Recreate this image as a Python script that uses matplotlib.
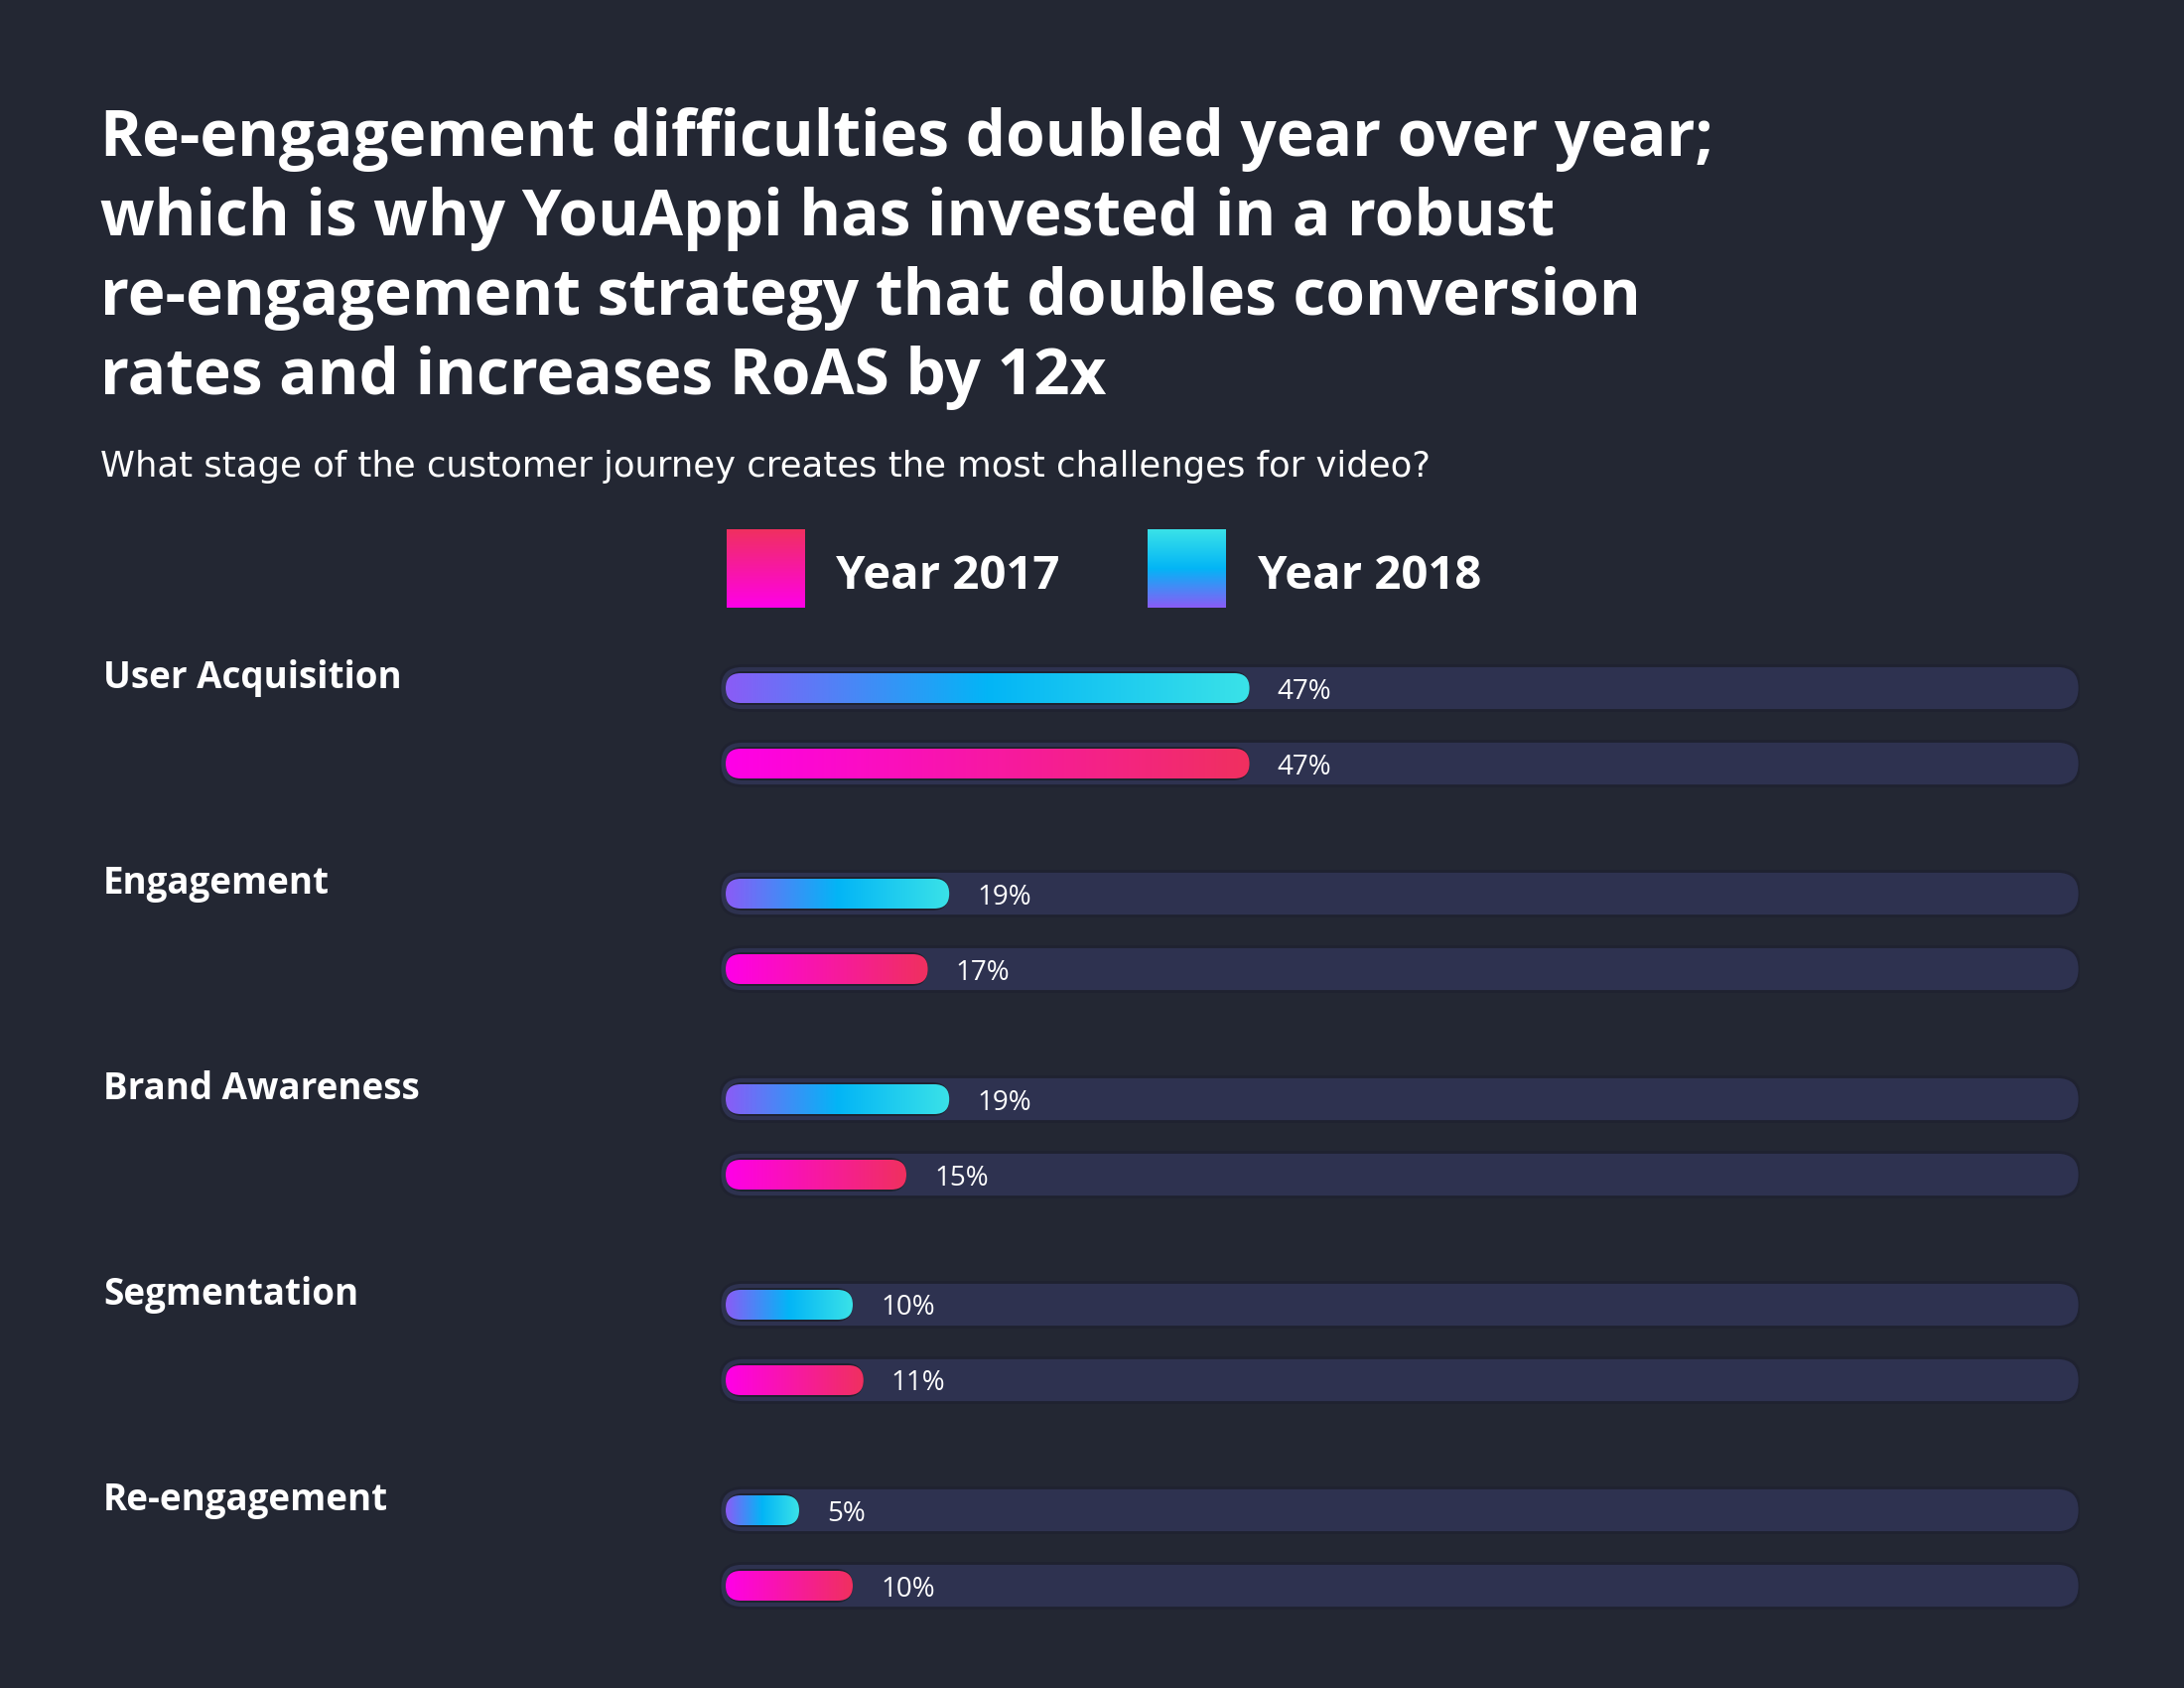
import numpy as np
import matplotlib.pyplot as plt
from matplotlib.patches import FancyBboxPatch
from matplotlib.colors import LinearSegmentedColormap
from matplotlib.transforms import blended_transform_factory

categories = ["User Acquisition", "Engagement", "Brand Awareness", "Segmentation", "Re-engagement"]
year_2018 = [47, 19, 19, 10, 5]
year_2017 = [47, 17, 15, 11, 10]
series_names = ["Year 2017", "Year 2018"]

title_lines = [
    "Re-engagement difficulties doubled year over year;",
    "which is why YouAppi has invested in a robust",
    "re-engagement strategy that doubles conversion",
    "rates and increases RoAS by 12x",
]
subtitle = "What stage of the customer journey creates the most challenges for video?"

BG = "#232733"
TRACK = "#2e3250"
EDGE = "#1f2230"
FONT = "Open Sans"
cmap_2018 = LinearSegmentedColormap.from_list("y18", ["#8a5cf6", "#03b5f6", "#3ae2e8"])
cmap_2017 = LinearSegmentedColormap.from_list("y17", ["#ff00e8", "#f0305f"])

W, H = 2200, 1700
fig = plt.figure(figsize=(22, 17), dpi=100, facecolor=BG)


def fx(px):
    return px / W


def fy(py):
    return 1 - py / H


# title + subtitle
for i, line in enumerate(title_lines):
    fig.text(fx(101), fy(157 + 80 * i), line, color="white", fontsize=46,
             fontweight="bold", family=FONT, va="baseline")
fig.text(fx(101), fy(480), subtitle, color="white", fontsize=25.5, family="DejaVu Sans",
         va="baseline")

# legend
grad_v = np.linspace(1, 0, 256)[:, None]
for name, cmap, sq_x, tx_x in [("Year 2017", cmap_2017, 732, 842), ("Year 2018", cmap_2018, 1156, 1267)]:
    lax = fig.add_axes([fx(sq_x), fy(612), 79 / W, 79 / H])
    lax.imshow(grad_v, cmap=cmap, aspect="auto")
    lax.axis("off")
    fig.text(fx(tx_x), fy(593), name, color="white", fontsize=34, fontweight="bold",
             family=FONT, va="baseline")

# bar area
ax_left, ax_right, ax_top, ax_bot = 725, 2095, 600, 1650
ax = fig.add_axes([fx(ax_left), fy(ax_bot), (ax_right - ax_left) / W, (ax_bot - ax_top) / H])
ax.set_facecolor(BG)
ax.axis("off")

px_per_pct = 10.8
zero_px = 741
group_px = 207
first_px = 693
pair_gap = 76 / group_px
xlim = ((ax_left - zero_px) / px_per_pct, (ax_right - zero_px) / px_per_pct)
ylim = ((ax_bot - first_px) / group_px, (ax_top - first_px) / group_px)
aspect = px_per_pct / group_px


def dx(px):
    return px / px_per_pct


def dy(px):
    return px / group_px


def pill(x0, x1, yc, h_px, **kw):
    p = FancyBboxPatch((x0, yc - dy(h_px / 2)), x1 - x0, dy(h_px),
                       boxstyle=f"round,pad=0,rounding_size={dx(h_px / 2)}",
                       mutation_aspect=aspect, **kw)
    ax.add_patch(p)
    return p


grad_h = np.linspace(0, 1, 256)[None, :]
for i, cat in enumerate(categories):
    for yc, val, cmap in [(i, year_2018[i], cmap_2018), (i + pair_gap, year_2017[i], cmap_2017)]:
        pill(xlim[0], xlim[1], yc, 45, facecolor=TRACK, edgecolor=EDGE, lw=2, zorder=1)
        x0, x1 = -dx(10), val + dx(10)
        pill(x0, x1, yc, 34, facecolor=EDGE, edgecolor="none", zorder=2)
        clip = pill(x0, x1, yc, 30, facecolor="none", edgecolor="none", zorder=3)
        im = ax.imshow(grad_h, cmap=cmap, aspect="auto", zorder=3,
                       extent=[x0, x1, yc + dy(15), yc - dy(15)])
        im.set_clip_path(clip)
        ax.text(val + dx(38), yc, f"{val}%", color="white", fontsize=20, family=FONT,
                va="center_baseline", ha="left", zorder=4)

ax.set_xlim(*xlim)
ax.set_ylim(*ylim)

# category labels, baseline at the 2018 bar centre
lab_tr = blended_transform_factory(fig.transFigure, ax.transData)
for i, cat in enumerate(categories):
    ax.text(fx(104), i, cat, transform=lab_tr, color="white", fontsize=26.5,
            fontweight="bold", family=FONT, va="baseline", ha="left")

fig.savefig("out.png", dpi=100, facecolor=BG)
